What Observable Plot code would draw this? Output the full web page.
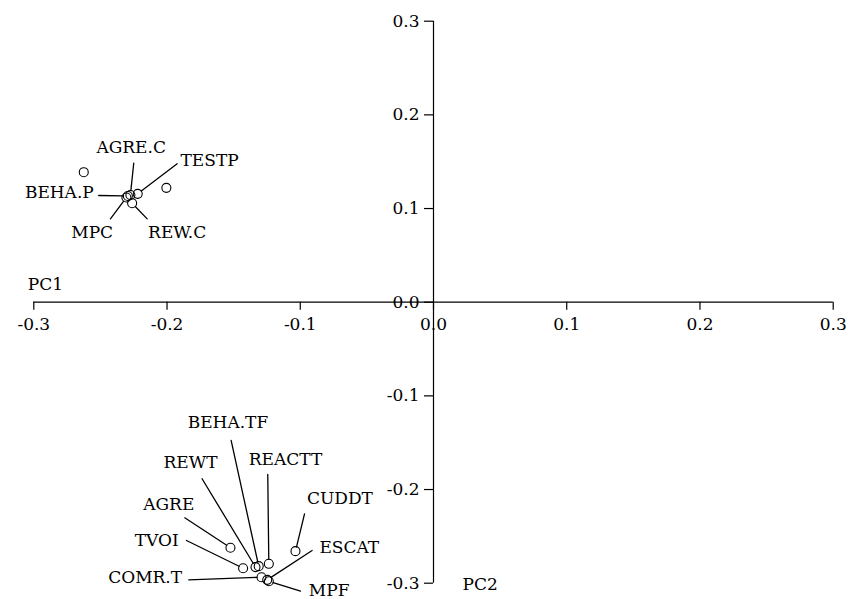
<!DOCTYPE html>
<html>
<head>
<meta charset="utf-8">
<script src="https://cdn.jsdelivr.net/npm/d3@7"></script>
<script src="https://cdn.jsdelivr.net/npm/@observablehq/plot@0.6"></script>
<style>
  html, body { margin: 0; padding: 0; background: #fff; }
</style>
</head>
<body>
<div id="chart"></div>
<script>
// Variable names and their loadings on PC1 / PC2
const names = ["BEHA.P","MPC","AGRE.C","TESTP","REW.C","","",
               "AGRE","CUDDT","TVOI","REWT","BEHA.TF","REACTT","COMR.T","ESCAT","MPF"];
const pc1 = [-0.2294,-0.2305,-0.2275,-0.2220,-0.2262,-0.2625,-0.2005,
             -0.1524,-0.1036,-0.1429,-0.1336,-0.1312,-0.1236,-0.1291,-0.1248,-0.1236];
const pc2 = [0.1134,0.1118,0.1144,0.1157,0.1057,0.1388,0.1221,
             -0.2622,-0.2658,-0.2840,-0.2828,-0.2818,-0.2793,-0.2936,-0.2964,-0.2979];

// Repelled label placement (data units): text anchor point, segment start, alignment
const labelNames  = ["AGRE.C","TESTP","BEHA.P","MPC","REW.C",
                     "BEHA.TF","REWT","REACTT","AGRE","CUDDT","ESCAT","MPF","TVOI","COMR.T"];
const labelX      = [-0.2269,-0.1899,-0.2550,-0.2562,-0.1924,
                     -0.1543,-0.1824,-0.1111,-0.1987,-0.0702,-0.0856,-0.0936,-0.1912,-0.1887];
const labelY      = [0.1655,0.1513,0.1174,0.0747,0.0747,
                     -0.1290,-0.1717,-0.1681,-0.2162,-0.2099,-0.2616,-0.3078,-0.2544,-0.2939];
const labelAlign  = ["middle","start","end","middle","middle",
                     "middle","middle","middle","middle","middle","start","start","end","end"];
const segX        = [-0.2250,-0.1924,-0.2513,-0.2425,-0.2149,
                     -0.1519,-0.1737,-0.1244,-0.1867,-0.0968,-0.0911,-0.0998,-0.1854,-0.1837];
const segY        = [0.1484,0.1478,0.1139,0.0890,0.0890,
                     -0.1476,-0.1885,-0.1839,-0.2302,-0.2259,-0.2651,-0.3085,-0.2544,-0.2964];

const xTicks = [-0.3,-0.2,-0.1,0.0,0.1,0.2,0.3];
const yTicks = [-0.3,-0.2,-0.1,0.0,0.1,0.2,0.3];
const xTitle = "PC1";
const yTitle = "PC2";

const points = names.map((n, i) => ({name: n, x: pc1[i], y: pc2[i]}));
const labels = labelNames.map((n, i) => {
  const p = points.find(d => d.name === n);
  return {name: n, tx: labelX[i], ty: labelY[i], align: labelAlign[i],
          sx: segX[i], sy: segY[i], px: p.x, py: p.y};
});

const fmt = d => d.toFixed(1);

const chart = Plot.plot({
  width: 848,
  height: 599,
  marginLeft: 33.3,
  marginRight: 15.3,
  marginTop: 20.7,
  marginBottom: 16.3,
  style: {fontFamily: "'DejaVu Serif', serif", fontSize: "17px", background: "#fff", color: "#000", overflow: "visible"},
  x: {domain: [-0.3, 0.3], axis: null},
  y: {domain: [-0.3, 0.3], axis: null},
  marks: [
    // axis lines through the origin
    Plot.ruleY([0], {x1: -0.3, x2: 0.3, stroke: "#000", strokeWidth: 1.2}),
    Plot.ruleX([0], {y1: -0.3, y2: 0.3, stroke: "#000", strokeWidth: 1.2}),
    // x ticks (down) and labels
    Plot.ruleX(xTicks, {x: d => d, y1: 0, y2: 0, insetBottom: -8, stroke: "#000", strokeWidth: 1.2}),
    Plot.text(xTicks, {x: d => d, y: 0, text: fmt, dy: 22}),
    // y ticks (left) and labels
    Plot.ruleY(yTicks, {y: d => d, x1: 0, x2: 0, insetLeft: -9, stroke: "#000", strokeWidth: 1.2}),
    Plot.text(yTicks, {x: 0, y: d => d, text: fmt, dx: -14, textAnchor: "end"}),
    // axis titles
    Plot.text([xTitle], {x: -0.3, y: 0, text: d => d, dx: -6, dy: -18, textAnchor: "start"}),
    Plot.text([yTitle], {x: 0, y: -0.3, text: d => d, dx: 29, dy: 1, textAnchor: "start"}),
    // label segments
    Plot.arrow(labels, {x1: "sx", y1: "sy", x2: "px", y2: "py", headLength: 0, insetEnd: 4.5, bend: 0, stroke: "#000", strokeWidth: 1.3}),
    // points
    Plot.dot(points, {x: "x", y: "y", r: 4.5, stroke: "#000", strokeWidth: 1.1, fill: "none"}),
    // labels
    Plot.text(labels.filter(d => d.align === "middle"), {x: "tx", y: "ty", text: "name", textAnchor: "middle"}),
    Plot.text(labels.filter(d => d.align === "start"), {x: "tx", y: "ty", text: "name", textAnchor: "start"}),
    Plot.text(labels.filter(d => d.align === "end"), {x: "tx", y: "ty", text: "name", textAnchor: "end"})
  ]
});
document.getElementById("chart").appendChild(chart);
</script>
</body>
</html>
